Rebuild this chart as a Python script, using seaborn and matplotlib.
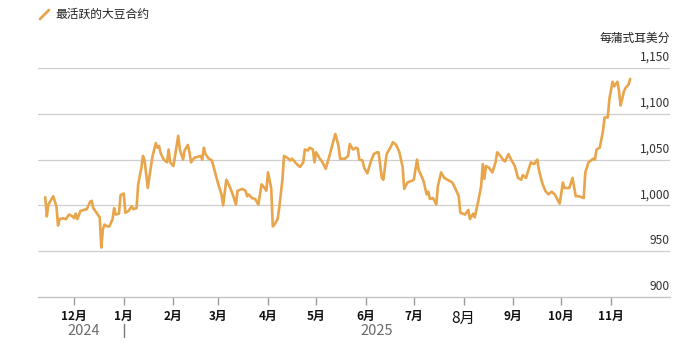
import pandas as pd
import matplotlib
matplotlib.use("Agg")
import matplotlib.pyplot as plt
import matplotlib.dates as mdates
from matplotlib.lines import Line2D
from matplotlib.transforms import blended_transform_factory
import seaborn as sns

# Most-active soybean futures, US cents per bushel
dates = [
    "2024-11-13", "2024-11-14", "2024-11-15", "2024-11-17", "2024-11-18", "2024-11-20",
    "2024-11-21", "2024-11-22", "2024-11-24", "2024-11-26", "2024-11-27", "2024-11-28",
    "2024-11-30",
    "2024-12-01", "2024-12-02", "2024-12-03", "2024-12-05", "2024-12-07", "2024-12-09",
    "2024-12-11", "2024-12-12", "2024-12-13", "2024-12-15", "2024-12-17", "2024-12-18",
    "2024-12-19", "2024-12-20", "2024-12-22", "2024-12-23", "2024-12-25", "2024-12-26",
    "2024-12-27", "2024-12-29", "2024-12-30",
    "2025-01-01", "2025-01-02", "2025-01-04", "2025-01-06", "2025-01-07", "2025-01-09",
    "2025-01-10", "2025-01-12", "2025-01-13", "2025-01-14", "2025-01-16", "2025-01-18",
    "2025-01-19", "2025-01-21", "2025-01-22", "2025-01-23", "2025-01-24", "2025-01-26",
    "2025-01-28", "2025-01-29", "2025-01-30",
    "2025-02-01", "2025-02-02", "2025-02-04", "2025-02-05", "2025-02-07", "2025-02-08",
    "2025-02-10", "2025-02-11", "2025-02-12", "2025-02-14", "2025-02-18", "2025-02-19",
    "2025-02-20", "2025-02-21", "2025-02-23", "2025-02-25", "2025-02-27",
    "2025-03-01", "2025-03-03", "2025-03-04", "2025-03-06", "2025-03-08", "2025-03-10",
    "2025-03-12", "2025-03-13", "2025-03-16", "2025-03-18", "2025-03-19", "2025-03-20",
    "2025-03-22", "2025-03-24", "2025-03-26", "2025-03-28", "2025-03-29", "2025-03-31",
    "2025-04-01", "2025-04-03", "2025-04-04", "2025-04-05", "2025-04-07", "2025-04-08",
    "2025-04-10", "2025-04-11", "2025-04-13", "2025-04-15", "2025-04-16", "2025-04-17",
    "2025-04-19", "2025-04-21", "2025-04-23", "2025-04-24", "2025-04-26", "2025-04-27",
    "2025-04-29", "2025-04-30",
    "2025-05-01", "2025-05-03", "2025-05-05", "2025-05-07", "2025-05-09", "2025-05-11",
    "2025-05-13", "2025-05-15", "2025-05-16", "2025-05-19", "2025-05-21", "2025-05-22",
    "2025-05-24", "2025-05-26", "2025-05-27", "2025-05-28", "2025-05-30", "2025-05-31",
    "2025-06-02", "2025-06-04", "2025-06-06", "2025-06-08", "2025-06-09", "2025-06-11",
    "2025-06-12", "2025-06-14", "2025-06-16", "2025-06-18", "2025-06-20", "2025-06-22",
    "2025-06-24", "2025-06-25", "2025-06-27", "2025-06-30",
    "2025-07-01", "2025-07-03", "2025-07-04", "2025-07-07", "2025-07-09", "2025-07-10",
    "2025-07-11", "2025-07-13", "2025-07-15", "2025-07-16", "2025-07-18", "2025-07-20",
    "2025-07-23", "2025-07-25", "2025-07-27", "2025-07-29", "2025-07-30",
    "2025-08-02", "2025-08-04", "2025-08-05", "2025-08-07", "2025-08-08", "2025-08-10",
    "2025-08-12", "2025-08-13", "2025-08-14", "2025-08-15", "2025-08-17", "2025-08-19",
    "2025-08-21", "2025-08-22", "2025-08-24", "2025-08-26", "2025-08-27", "2025-08-29",
    "2025-08-31",
    "2025-09-02", "2025-09-04", "2025-09-06", "2025-09-07", "2025-09-09", "2025-09-10",
    "2025-09-12", "2025-09-14", "2025-09-16", "2025-09-17", "2025-09-19", "2025-09-21",
    "2025-09-23", "2025-09-25", "2025-09-27", "2025-09-29", "2025-09-30",
    "2025-10-02", "2025-10-03", "2025-10-06", "2025-10-08", "2025-10-10", "2025-10-12",
    "2025-10-15", "2025-10-16", "2025-10-18", "2025-10-21", "2025-10-22", "2025-10-23",
    "2025-10-25", "2025-10-27", "2025-10-28", "2025-10-30", "2025-10-31",
    "2025-11-02", "2025-11-03", "2025-11-05", "2025-11-06", "2025-11-07", "2025-11-08",
    "2025-11-09", "2025-11-10", "2025-11-12", "2025-11-13",
]
prices = [
    1009, 988, 1001, 1007, 1010, 999,
    978, 985, 986, 985, 988, 990,
    988,
    986, 991, 985, 994, 995, 996,
    1004, 1005, 997, 992, 987, 954,
    974, 979, 977, 977, 985, 997,
    990, 991, 1011,
    1013, 992, 994, 999, 996, 997,
    1023, 1041, 1054, 1049, 1019, 1043,
    1054, 1068, 1063, 1065, 1057, 1050,
    1047, 1061, 1047,
    1043, 1054, 1076, 1061, 1050, 1060,
    1066, 1058, 1047, 1052, 1054, 1050,
    1063, 1056, 1051, 1049, 1036,
    1023, 1012, 1000, 1028, 1021, 1012,
    1001, 1016, 1018, 1016, 1010, 1012,
    1008, 1007, 1001, 1023, 1021, 1016,
    1036, 1019, 977, 979, 985, 997,
    1028, 1054, 1052, 1049, 1051, 1049,
    1045, 1042, 1047, 1061, 1060, 1063,
    1061, 1047,
    1058, 1052, 1047, 1040, 1052, 1065,
    1078, 1065, 1051, 1051, 1054, 1067,
    1061, 1063, 1062, 1050, 1049, 1041,
    1035, 1047, 1056, 1058, 1058, 1030,
    1028, 1056, 1062, 1069, 1066, 1058,
    1042, 1018, 1025, 1027,
    1028, 1050, 1039, 1027, 1012, 1015,
    1007, 1008, 1001, 1021, 1036, 1030,
    1027, 1025, 1018, 1010, 992,
    990, 995, 985, 991, 987, 1003,
    1021, 1045, 1029, 1043, 1041, 1036,
    1047, 1058, 1054, 1049, 1048, 1056,
    1049,
    1043, 1030, 1028, 1033, 1030, 1036,
    1047, 1045, 1050, 1039, 1025, 1016,
    1012, 1015, 1012, 1005, 1002,
    1025, 1019, 1019, 1030, 1010, 1010,
    1008, 1036, 1047, 1051, 1050, 1061,
    1063, 1081, 1096, 1096, 1116,
    1135, 1130, 1135, 1125, 1109, 1116,
    1124, 1128, 1132, 1138,
]

month_labels = ["12月", "1月", "2月", "3月", "4月", "5月",
                "6月", "7月", "8月", "9月", "10月", "11月"]
year_labels = ["2024", "2025"]
y_ticks = [900, 950, 1000, 1050, 1100, 1150]

title = "最活跃的大豆合约"
unit = "每蒲式耳美分"

LINE = "#e8a54b"
GRID = "#cfcfcf"
TEXT = "#222222"

sns.set_style("white")
plt.rcParams["font.family"] = ["Noto Sans CJK SC", "DejaVu Sans"]

W, H = 700, 348
fig = plt.figure(figsize=(W / 100, H / 100), dpi=100)
fig.patch.set_facecolor("white")
ax = fig.add_axes([38 / W, 51 / H, 632 / W, 229 / H])

df = pd.DataFrame({"date": pd.to_datetime(dates), "price": prices})
sns.lineplot(data=df, x="date", y="price", color=LINE, lw=1.9, ax=ax,
             zorder=3, solid_joinstyle="round")

ax.set_xlim(pd.Timestamp("2024-11-08 12:00"), pd.Timestamp("2025-12-07 20:00"))
ax.set_ylim(900, 1150)
ax.set_xlabel("")
ax.set_ylabel("")

# horizontal rules with value labels sitting above them at the right edge
for v in y_ticks[1:]:
    ax.axhline(v, color=GRID, lw=0.9, zorder=0)
ytrans = blended_transform_factory(ax.transAxes, ax.transData)
for v in y_ticks:
    ax.annotate(f"{v:,}", xy=(1.0, v), xycoords=ytrans, xytext=(0, 3),
                textcoords="offset points", ha="right", va="bottom",
                fontsize=8.7, color="#333333")
ax.set_yticks([])

for side in ["top", "right", "left"]:
    ax.spines[side].set_visible(False)
ax.spines["bottom"].set_color("#c4c4c4")
ax.spines["bottom"].set_linewidth(1.0)

# month ticks
month_ticks = pd.date_range("2024-12-01", "2025-11-01", freq="MS")
ax.set_xticks(month_ticks)
ax.set_xticklabels(month_labels)
ax.tick_params(axis="x", length=6, width=1, color="#9a9a9a", pad=3,
               labelsize=8.5, labelcolor="#111111", bottom=True)
for lbl in ax.get_xticklabels():
    lbl.set_fontweight("bold")
    if lbl.get_text() == "8月":
        lbl.set_fontsize(11)
        lbl.set_fontweight("normal")

# year row
fig.text(84 / W, 1 - 331 / H, year_labels[0], ha="center", va="center",
         fontsize=10.5, color="#6b6b6b")
fig.text(377 / W, 1 - 331 / H, year_labels[1], ha="center", va="center",
         fontsize=10.5, color="#6b6b6b")
sep_trans = blended_transform_factory(ax.transData, fig.transFigure)
ax.add_line(Line2D([mdates.date2num(pd.Timestamp("2025-01-01"))] * 2,
                   [1 - 324 / H, 1 - 337 / H], transform=sep_trans,
                   color="#777777", lw=1, clip_on=False))

# legend key and unit label
fig.add_artist(Line2D([40 / W, 49 / W], [1 - 19 / H, 1 - 10 / H],
                      color=LINE, lw=2, solid_capstyle="round"))
fig.text(55 / W, 1 - 14 / H, title, ha="left", va="center",
         fontsize=8.5, color=TEXT)
fig.text(670 / W, 1 - 38 / H, unit, ha="right", va="center",
         fontsize=8.5, color=TEXT)

fig.savefig("out.png", dpi=100, facecolor="white")
